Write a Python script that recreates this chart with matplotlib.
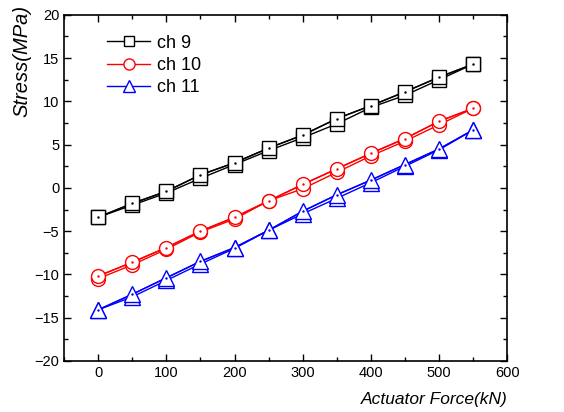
import matplotlib
matplotlib.use('Agg')
import matplotlib.pyplot as plt
from matplotlib.ticker import MultipleLocator

plt.rcParams['font.family'] = ['Liberation Sans', 'DejaVu Sans']

force = [0, 50, 100, 150, 200, 250, 300, 350, 400, 450, 500, 550]

# loading / unloading runs for each channel
ch9_up = [-3.4, -1.8, -0.4, 1.5, 2.9, 4.6, 6.1, 8.0, 9.5, 11.1, 12.8, 14.3]
ch9_dn = [-3.4, -2.0, -0.6, 1.1, 2.7, 4.3, 5.8, 7.4, 9.3, 10.7, 12.5, 14.3]
ch10_up = [-10.2, -8.6, -6.9, -5.0, -3.4, -1.5, 0.4, 2.2, 4.0, 5.7, 7.7, 9.2]
ch10_dn = [-10.5, -8.9, -7.1, -5.1, -3.6, -1.5, -0.1, 1.8, 3.7, 5.4, 7.3, 9.2]
ch11_up = [-14.1, -12.3, -10.4, -8.5, -6.9, -4.9, -2.7, -0.8, 0.9, 2.7, 4.5, 6.7]
ch11_dn = [-14.1, -12.6, -10.7, -8.8, -7.0, -4.9, -3.0, -1.2, 0.6, 2.5, 4.4, 6.7]

series = [
    ('ch 9', ch9_up, ch9_dn, 'black', 's', 9.5),
    ('ch 10', ch10_up, ch10_dn, 'red', 'o', 10),
    ('ch 11', ch11_up, ch11_dn, 'blue', '^', 11),
]

fig = plt.figure(figsize=(5.64, 4.12), dpi=100)
ax = fig.add_axes([0.1135, 0.124, 0.786, 0.840])

for label, up, dn, color, mk, ms in series:
    # lines underneath, white-filled markers on top so lines stop at the edge
    ax.plot(force, up, color=color, lw=1, zorder=2)
    ax.plot(force, dn, color=color, lw=1, zorder=2)
    ax.plot(force, dn, ls='none', marker=mk, ms=ms, mfc='white',
            mec=color, mew=1, zorder=3)
    ax.plot(force, up, color=color, lw=1, marker=mk, ms=ms, mfc='white',
            mec=color, mew=1, label=label, zorder=3)
    ax.plot(force, up, ls='none', marker='.', ms=1.5, color=color, zorder=4)

ax.set_xlim(-50, 600)
ax.set_ylim(-20, 20)
ax.xaxis.set_major_locator(MultipleLocator(100))
ax.xaxis.set_minor_locator(MultipleLocator(50))
ax.yaxis.set_major_locator(MultipleLocator(5))
ax.yaxis.set_minor_locator(MultipleLocator(2.5))
ax.tick_params(which='both', direction='in', top=True, right=True,
               labeltop=False, labelright=False, labelsize=10.5, width=1)
ax.tick_params(which='major', length=5)
ax.tick_params(which='minor', length=3)
for s in ax.spines.values():
    s.set_linewidth(1.2)

ax.set_ylabel('Stress(MPa)', style='italic', fontsize=14.5)
ax.yaxis.set_label_coords(-0.074, 1.03, transform=ax.transAxes)
ax.yaxis.label.set_horizontalalignment('right')
ax.set_xlabel('Actuator Force(kN)', style='italic', fontsize=12.5)
ax.xaxis.set_label_coords(1.0, -0.09, transform=ax.transAxes)
ax.xaxis.label.set_horizontalalignment('right')

ax.legend(loc='upper left', bbox_to_anchor=(0.06, 0.99), frameon=False,
          fontsize=13, handlelength=2.4, handletextpad=0.4, labelspacing=0.3,
          markerscale=0.8)

fig.savefig('out.png', dpi=100)
